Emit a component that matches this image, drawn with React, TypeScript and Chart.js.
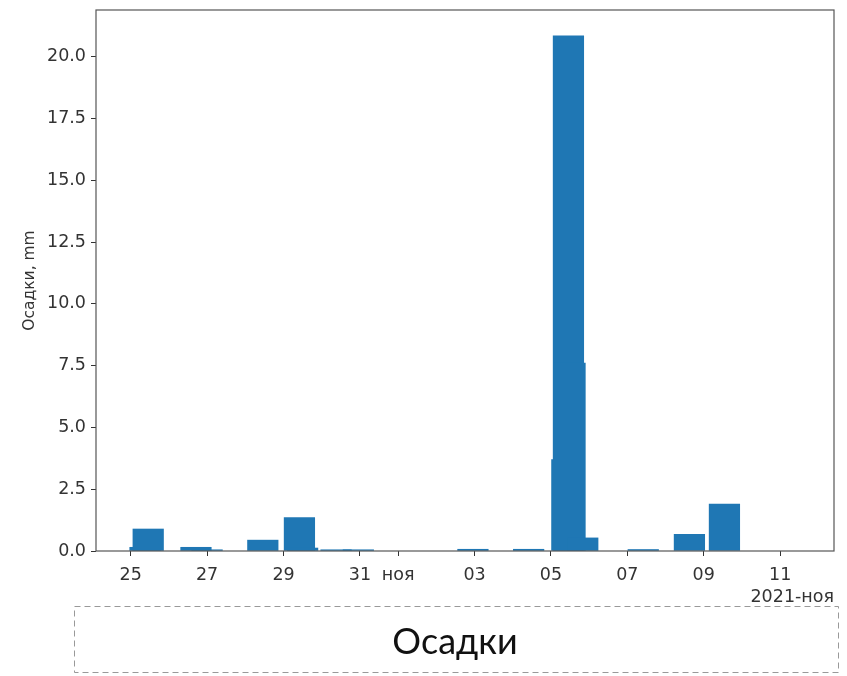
import React, { useEffect, useRef } from 'react';
import { Chart, registerables } from 'chart.js';

Chart.register(...registerables);

// ---- data ----
const BASE_DATE = '2021-10-25 00:00';
const DATES = [
  '2021-10-25 09:00', '2021-10-25 11:00', '2021-10-26 17:00', '2021-10-27 00:00',
  '2021-10-28 11:00', '2021-10-29 10:00', '2021-10-29 12:00', '2021-10-30 09:00',
  '2021-10-30 23:00', '2021-11-02 23:00', '2021-11-04 10:00', '2021-11-05 10:00',
  '2021-11-05 11:00', '2021-11-05 12:00', '2021-11-05 20:00', '2021-11-07 10:00',
  '2021-11-08 15:00', '2021-11-09 13:00',
];
const PRECIP = [
  0.15, 0.89, 0.15, 0.05,
  0.44, 1.35, 0.12, 0.05,
  0.05, 0.07, 0.07, 3.7,
  20.85, 7.6, 0.53, 0.06,
  0.67, 1.9,
];
const X_TICK_DATES = [
  '2021-10-25 00:00', '2021-10-27 00:00', '2021-10-29 00:00', '2021-10-31 00:00', '2021-11-01 00:00',
  '2021-11-03 00:00', '2021-11-05 00:00', '2021-11-07 00:00', '2021-11-09 00:00', '2021-11-11 00:00',
];
const X_TICK_LABELS = ['25', '27', '29', '31', 'ноя', '03', '05', '07', '09', '11'];
const Y_TICKS = [0, 2.5, 5, 7.5, 10, 12.5, 15, 17.5, 20];
const X_LIMITS = ['2021-10-24 02:12', '2021-11-12 09:50'];
const BAR_WIDTH_DAYS = 0.8;
const Y_LABEL = 'Осадки, mm';
const OFFSET_LABEL = '2021-ноя';
const TITLE = 'Осадки';

function toMs(s: string): number {
  const [d, t = '00:00'] = s.split(' ');
  const [Y, M, D] = d.split('-').map(Number);
  const [h, m] = t.split(':').map(Number);
  return Date.UTC(Y, M - 1, D, h, m);
}
const BASE_MS = toMs(BASE_DATE);
const toDays = (s: string) => (toMs(s) - BASE_MS) / 86400000;

const TICK_FONT = { family: '"DejaVu Sans", sans-serif', size: 17.5 };
const TEXT_COLOR = '#333';

const framePlugin = {
  id: 'frame',
  afterDatasetsDraw(chart: any) {
    const { ctx, chartArea: a } = chart;
    ctx.save();
    ctx.strokeStyle = '#555';
    ctx.lineWidth = 1.2;
    ctx.strokeRect(a.left, a.top, a.right - a.left, a.bottom - a.top);
    ctx.restore();
  },
};

function PrecipChart() {
  const ref = useRef<HTMLCanvasElement>(null);
  useEffect(() => {
    if (!ref.current) return;
    const points = DATES.map((d, i) => ({ x: toDays(d), y: PRECIP[i] }));
    const xTicks = X_TICK_DATES.map(toDays);
    const yMax = Math.max(...PRECIP) * 1.05;
    const chart = new Chart(ref.current, {
      type: 'bar',
      data: {
        datasets: [
          {
            data: points as any,
            backgroundColor: '#1f77b4',
            borderWidth: 0,
            barThickness: 30,
          } as any,
        ],
      },
      options: {
        responsive: false,
        animation: false,
        events: [],
        layout: { padding: { left: 0, right: 13, top: 10, bottom: 0 } },
        plugins: { legend: { display: false }, tooltip: { enabled: false } },
        scales: {
          x: {
            type: 'linear',
            offset: false,
            min: toDays(X_LIMITS[0]),
            max: toDays(X_LIMITS[1]),
            afterFit: (s: any) => { s.height = 59; s.paddingLeft = 0; s.paddingRight = 0; },
            afterBuildTicks: (s: any) => { s.ticks = xTicks.map((v) => ({ value: v })); },
            ticks: {
              autoSkip: false,
              maxRotation: 0,
              minRotation: 0,
              padding: 9,
              color: TEXT_COLOR,
              font: TICK_FONT,
              callback: (_v: any, i: number) => X_TICK_LABELS[i],
            },
            grid: { offset: false, drawOnChartArea: false, tickLength: 5, color: '#333', lineWidth: 1 },
            border: { display: false },
            title: {
              display: true,
              text: OFFSET_LABEL,
              align: 'end',
              color: TEXT_COLOR,
              font: TICK_FONT,
              padding: { top: 0, bottom: 2 },
            },
          } as any,
          y: {
            type: 'linear',
            min: 0,
            max: yMax,
            afterFit: (s: any) => { s.width = 96; s.paddingTop = 0; s.paddingBottom = 0; },
            afterBuildTicks: (s: any) => { s.ticks = Y_TICKS.map((v) => ({ value: v })); },
            ticks: {
              padding: 5,
              color: TEXT_COLOR,
              font: TICK_FONT,
              callback: (v: any) => Number(v).toFixed(1),
            },
            grid: { drawOnChartArea: false, tickLength: 5, color: '#333', lineWidth: 1 },
            border: { display: false },
            title: {
              display: true,
              text: Y_LABEL,
              color: TEXT_COLOR,
              font: { family: '"DejaVu Sans", sans-serif', size: 15.5 },
              padding: { top: 21, bottom: 0 },
            },
          } as any,
        },
      },
      plugins: [framePlugin],
    });
    const xs: any = chart.scales.x;
    const w = xs.getPixelForValue(BAR_WIDTH_DAYS) - xs.getPixelForValue(0);
    (chart.data.datasets[0] as any).barThickness = w;
    chart.update('none');
    return () => chart.destroy();
  }, []);
  return (
    <canvas
      ref={ref}
      width={847}
      height={610}
      style={{ position: 'absolute', left: 0, top: 0, width: 847, height: 610 }}
    />
  );
}

export default function App() {
  return (
    <div style={{ position: 'absolute', left: 0, top: 0, width: 847, height: 676, background: '#fff' }}>
      <PrecipChart />
      <svg
        width={847}
        height={676}
        style={{ position: 'absolute', left: 0, top: 0, pointerEvents: 'none' }}
      >
        <rect x={74.5} y={606.5} width={764} height={66} fill="none" stroke="#999" strokeWidth={1} strokeDasharray="6 4" />
        <text
          x={455}
          y={640}
          textAnchor="middle"
          dominantBaseline="central"
          fontFamily='Lato, "Noto Sans", sans-serif'
          fontSize={36}
          fill="#111"
        >
          {TITLE}
        </text>
      </svg>
    </div>
  );
}
